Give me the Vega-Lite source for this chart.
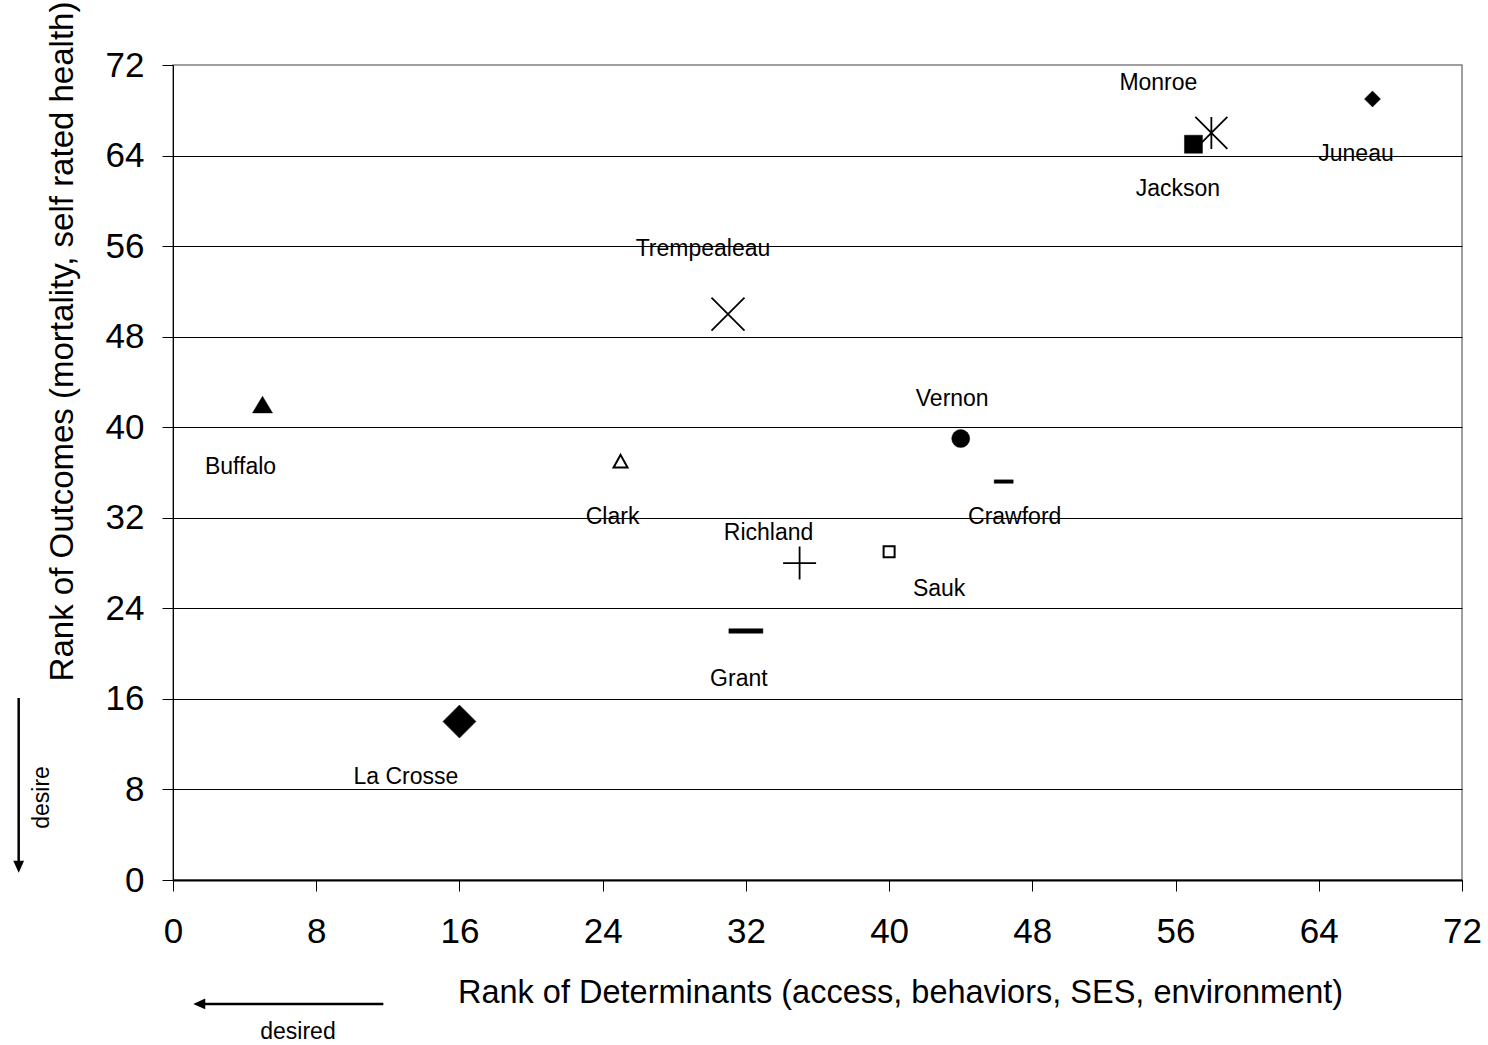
{
  "$schema": "https://vega.github.io/schema/vega-lite/v6.json",
  "width": 1289,
  "height": 815,
  "autosize": {"type": "none"},
  "padding": {"left": 173, "top": 65, "right": 26, "bottom": 165},
  "background": "white",
  "config": {
    "font": "Liberation Sans",
    "view": {"stroke": "#808080", "strokeWidth": 1.5},
    "axis": {
      "domainColor": "black",
      "tickColor": "black",
      "labelColor": "black",
      "titleColor": "black",
      "titleFontWeight": "normal",
      "labelFont": "Liberation Sans",
      "titleFont": "Liberation Sans"
    }
  },
  "datasets": {
    "counties": [
      {"county": "Buffalo", "determinants": 5, "outcomes": 42},
      {"county": "Clark", "determinants": 25, "outcomes": 37},
      {"county": "Trempealeau", "determinants": 31, "outcomes": 50},
      {"county": "La Crosse", "determinants": 16, "outcomes": 14},
      {"county": "Grant", "determinants": 32, "outcomes": 22},
      {"county": "Richland", "determinants": 35, "outcomes": 28},
      {"county": "Sauk", "determinants": 40, "outcomes": 29},
      {"county": "Vernon", "determinants": 44, "outcomes": 39},
      {"county": "Crawford", "determinants": 46.4, "outcomes": 35.2},
      {"county": "Jackson", "determinants": 57, "outcomes": 65},
      {"county": "Monroe", "determinants": 58, "outcomes": 66},
      {"county": "Juneau", "determinants": 67, "outcomes": 69}
    ],
    "arrowLines": [
      {"dir": "left", "determinants": 11.75, "determinants2": 1.47, "outcomes": -10.95, "outcomes2": -10.95},
      {"dir": "down", "determinants": -8.62, "determinants2": -8.62, "outcomes": 16.08, "outcomes2": 1.17}
    ],
    "arrowHeads": [
      {"dir": "left", "determinants": 1.13, "outcomes": -10.95},
      {"dir": "down", "determinants": -8.62, "outcomes": 0.64}
    ],
    "notes": [
      {"label": "desired", "determinants": 6.98, "outcomes": -14.05},
      {"label": "desire", "determinants": -6.93, "outcomes": 7.29}
    ]
  },
  "data": {"name": "counties"},
  "encoding": {
    "x": {
      "field": "determinants",
      "type": "quantitative",
      "scale": {"domain": [0, 72], "nice": false, "zero": false},
      "axis": {
        "values": [0, 8, 16, 24, 32, 40, 48, 56, 64, 72],
        "grid": false,
        "tickSize": 11,
        "tickWidth": 1,
        "domainWidth": 2,
        "labelFontSize": 35,
        "labelPadding": 23,
        "labelFlush": false,
        "labelOverlap": false,
        "title": "Rank of Determinants (access, behaviors, SES, environment)",
        "titleFontSize": 32.5,
        "titleX": 727,
        "titleY": 122,
        "titleBaseline": "alphabetic",
        "titleAlign": "center"
      }
    },
    "y": {
      "field": "outcomes",
      "type": "quantitative",
      "scale": {"domain": [0, 72], "nice": false, "zero": false},
      "axis": {
        "values": [0, 8, 16, 24, 32, 40, 48, 56, 64, 72],
        "grid": true,
        "gridColor": "black",
        "gridWidth": 1,
        "gridOpacity": {"condition": {"test": "datum.value === 72", "value": 0}, "value": 1},
        "tickSize": 11,
        "tickWidth": 1,
        "domainWidth": 1,
        "labelFontSize": 35,
        "labelPadding": 18,
        "labelFlush": false,
        "labelOverlap": false,
        "title": "Rank of Outcomes (mortality, self rated health)",
        "titleFontSize": 33,
        "titleAngle": 270,
        "titleX": -100.7,
        "titleY": 276,
        "titleBaseline": "alphabetic",
        "titleAlign": "center"
      }
    }
  },
  "layer": [
    {
      "mark": {"type": "point", "filled": true, "opacity": 1, "stroke": "black"},
      "encoding": {
        "shape": {
          "field": "county", "type": "nominal", "legend": null,
          "scale": {
            "domain": ["Buffalo", "Clark", "Trempealeau", "La Crosse", "Grant", "Richland", "Sauk", "Vernon", "Crawford", "Jackson", "Monroe", "Juneau"],
            "range": ["M0,-0.83L1,0.83L-1,0.83Z", "M0,-0.9L1,0.9L-1,0.9Z", "M-1,-1L1,1M-1,1L1,-1", "diamond", "M-1,-0.13L1,-0.13L1,0.13L-1,0.13Z", "M-1,0L1,0M0,-1L0,1", "square", "circle", "M-1,-0.18L1,-0.18L1,0.18L-1,0.18Z", "square", "M-1,-1L1,1M-1,1L1,-1M0,-1L0,1", "diamond"]
          }
        },
        "size": {
          "field": "county", "type": "nominal", "legend": null,
          "scale": {
            "type": "ordinal",
            "domain": ["Buffalo", "Clark", "Trempealeau", "La Crosse", "Grant", "Richland", "Sauk", "Vernon", "Crawford", "Jackson", "Monroe", "Juneau"],
            "range": [400, 196, 1089, 1089, 1156, 1089, 121, 324, 361, 324, 1024, 256]
          }
        },
        "fill": {
          "field": "county", "type": "nominal", "legend": null,
          "scale": {
            "domain": ["Buffalo", "Clark", "Trempealeau", "La Crosse", "Grant", "Richland", "Sauk", "Vernon", "Crawford", "Jackson", "Monroe", "Juneau"],
            "range": ["black", "white", "black", "black", "black", "black", "white", "black", "black", "black", "black", "black"]
          }
        },
        "strokeWidth": {
          "field": "county", "type": "nominal", "legend": null,
          "scale": {
            "type": "ordinal",
            "domain": ["Buffalo", "Clark", "Trempealeau", "La Crosse", "Grant", "Richland", "Sauk", "Vernon", "Crawford", "Jackson", "Monroe", "Juneau"],
            "range": [0.5, 2, 1.8, 0.5, 0.5, 1.8, 2, 0.5, 0.5, 0.5, 1.8, 0.5]
          }
        }
      }
    },
    {"transform": [{"filter": {"field": "county", "equal": "Monroe"}}], "mark": {"type": "text", "fontSize": 23, "color": "black", "align": "center", "baseline": "middle", "dx": -53, "dy": -50}, "encoding": {"text": {"field": "county"}}},
    {"transform": [{"filter": {"field": "county", "equal": "Jackson"}}], "mark": {"type": "text", "fontSize": 23, "color": "black", "align": "center", "baseline": "middle", "dx": -15.5, "dy": 45}, "encoding": {"text": {"field": "county"}}},
    {"transform": [{"filter": {"field": "county", "equal": "Juneau"}}], "mark": {"type": "text", "fontSize": 23, "color": "black", "align": "center", "baseline": "middle", "dx": -16.5, "dy": 55.5}, "encoding": {"text": {"field": "county"}}},
    {"transform": [{"filter": {"field": "county", "equal": "Trempealeau"}}], "mark": {"type": "text", "fontSize": 23, "color": "black", "align": "center", "baseline": "middle", "dx": -25, "dy": -65}, "encoding": {"text": {"field": "county"}}},
    {"transform": [{"filter": {"field": "county", "equal": "Buffalo"}}], "mark": {"type": "text", "fontSize": 23, "color": "black", "align": "center", "baseline": "middle", "dx": -22, "dy": 62}, "encoding": {"text": {"field": "county"}}},
    {"transform": [{"filter": {"field": "county", "equal": "Clark"}}], "mark": {"type": "text", "fontSize": 23, "color": "black", "align": "center", "baseline": "middle", "dx": -8, "dy": 56}, "encoding": {"text": {"field": "county"}}},
    {"transform": [{"filter": {"field": "county", "equal": "Richland"}}], "mark": {"type": "text", "fontSize": 23, "color": "black", "align": "center", "baseline": "middle", "dx": -31, "dy": -30}, "encoding": {"text": {"field": "county"}}},
    {"transform": [{"filter": {"field": "county", "equal": "Vernon"}}], "mark": {"type": "text", "fontSize": 23, "color": "black", "align": "center", "baseline": "middle", "dx": -8.5, "dy": -40}, "encoding": {"text": {"field": "county"}}},
    {"transform": [{"filter": {"field": "county", "equal": "Crawford"}}], "mark": {"type": "text", "fontSize": 23, "color": "black", "align": "center", "baseline": "middle", "dx": 11, "dy": 35}, "encoding": {"text": {"field": "county"}}},
    {"transform": [{"filter": {"field": "county", "equal": "Sauk"}}], "mark": {"type": "text", "fontSize": 23, "color": "black", "align": "center", "baseline": "middle", "dx": 50, "dy": 37.5}, "encoding": {"text": {"field": "county"}}},
    {"transform": [{"filter": {"field": "county", "equal": "Grant"}}], "mark": {"type": "text", "fontSize": 23, "color": "black", "align": "center", "baseline": "middle", "dx": -7, "dy": 48}, "encoding": {"text": {"field": "county"}}},
    {"transform": [{"filter": {"field": "county", "equal": "La Crosse"}}], "mark": {"type": "text", "fontSize": 23, "color": "black", "align": "center", "baseline": "middle", "dx": -53.5, "dy": 55.5}, "encoding": {"text": {"field": "county"}}},
    {
      "data": {"name": "arrowLines"},
      "mark": {"type": "rule", "color": "black", "strokeWidth": 2.5},
      "encoding": {
        "x2": {"field": "determinants2"},
        "y2": {"field": "outcomes2"}
      }
    },
    {
      "data": {"name": "arrowHeads"},
      "transform": [{"filter": {"field": "dir", "equal": "left"}}],
      "mark": {"type": "point", "filled": true, "opacity": 1, "color": "black", "strokeWidth": 0, "size": 144, "shape": "M0,0L2,-0.9L2,0.9Z"}
    },
    {
      "data": {"name": "arrowHeads"},
      "transform": [{"filter": {"field": "dir", "equal": "down"}}],
      "mark": {"type": "point", "filled": true, "opacity": 1, "color": "black", "strokeWidth": 0, "size": 144, "shape": "M0,0L-0.9,-2L0.9,-2Z"}
    },
    {
      "data": {"name": "notes"},
      "transform": [{"filter": {"field": "label", "equal": "desired"}}],
      "mark": {"type": "text", "fontSize": 23, "color": "black", "align": "center", "baseline": "alphabetic"},
      "encoding": {"text": {"field": "label"}}
    },
    {
      "data": {"name": "notes"},
      "transform": [{"filter": {"field": "label", "equal": "desire"}}],
      "mark": {"type": "text", "fontSize": 23, "color": "black", "align": "center", "baseline": "alphabetic", "angle": 270},
      "encoding": {"text": {"field": "label"}}
    }
  ]
}
